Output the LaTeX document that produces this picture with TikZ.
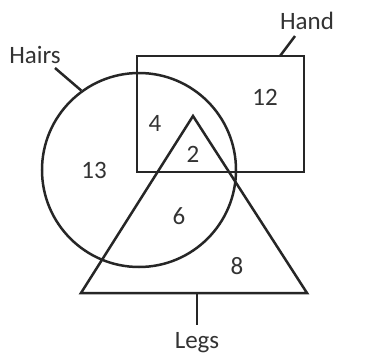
\documentclass[tikz,border=0pt]{standalone}
\usepackage{fontspec}
\setmainfont{Carlito}
\begin{document}
\begin{tikzpicture}[x=1pt,y=-1pt,
  shapeline/.style={draw=black!85, line width=2.5pt},
  lbl/.style={font=\fontsize{25}{28}\selectfont, text=black!80, inner sep=0pt},
  num/.style={font=\fontsize{25}{28}\selectfont, text=black!80, inner sep=0pt}]
\useasboundingbox (0,0) rectangle (378,362);
\fill[white] (0,0) rectangle (378,362);
% sets
\node[shapeline, circle, minimum size=194pt, inner sep=0pt] (hairs) at (139,170) {};
\node[shapeline, rectangle, minimum width=167pt, minimum height=116pt, inner sep=0pt] (hand) at (220.3,114) {};
\coordinate (tA) at (193,116);
\coordinate (tL) at (81,293);
\coordinate (tR) at (307,293);
\draw[shapeline, line join=miter] (tA) -- (tL) -- (tR) -- cycle;
% labels
\node[lbl] (hairsl) at (35,55) {Hairs};
\node[lbl] (handl) at (307,21) {Hand};
\node[lbl] (legsl) at (197,343) {Legs};
\coordinate (handpt) at (280,56);
\coordinate (handend) at (295,36);
\coordinate (hairsend) at (55,68);
\coordinate (legspt) at (197,293);
\coordinate (legsend) at (197,325);
\draw[shapeline] (hairsend) -- (hairs.126.6);
\draw[shapeline] (handpt) -- (handend);
\draw[shapeline] (legspt) -- (legsend);
% numbers
\node[num] (n12) at (265,97) {12};
\node[num] (n4) at (155,123) {4};
\node[num] (n2) at (193,154) {2};
\node[num] (n13) at (94,170) {13};
\node[num] (n6) at (179,216) {6};
\node[num] (n8) at (237,266) {8};
\end{tikzpicture}
\end{document}
